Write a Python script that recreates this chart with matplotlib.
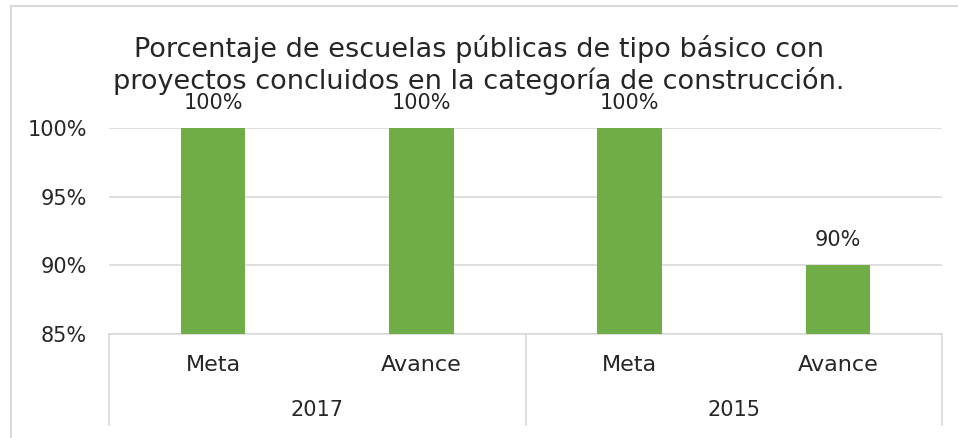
import numpy as np
import matplotlib.pyplot as plt
from matplotlib.lines import Line2D
import matplotlib.transforms as mtransforms

plt.rcParams['font.family'] = ['DejaVu Sans']

# datos
categorias = ['Meta', 'Avance', 'Meta', 'Avance']
anios = ['2017', '2015']
valores = [1.00, 1.00, 1.00, 0.90]
etiquetas = ['100%', '100%', '100%', '90%']
ticks_y = [0.85, 0.90, 0.95, 1.00]

verde = '#70AD47'
gris = '#D9D9D9'
texto = '#262626'

fig = plt.figure(figsize=(9.58, 4.38), dpi=100)
ax = fig.add_axes([109 / 958, 1 - 334 / 438, 833 / 958, 206 / 438])

x = np.arange(len(categorias))
ax.bar(x, np.array(valores) - 0.85, bottom=0.85, width=0.31, color=verde, zorder=3)

for xi, v, t in zip(x, valores, etiquetas):
    ax.text(xi, v + 0.011, t, ha='center', va='bottom', fontsize=15, color=texto)

ax.set_ylim(0.85, 1.0)
ax.set_xlim(-0.5, 3.5)
ax.set_yticks(ticks_y)
ax.set_yticklabels([f'{int(round(t * 100))}%' for t in ticks_y], fontsize=15, color=texto)
ax.tick_params(axis='y', length=0, pad=16)
ax.set_xticks([])
ax.grid(axis='y', color=gris, linewidth=1.2, zorder=0)
for s in ['top', 'right', 'left']:
    ax.spines[s].set_visible(False)
ax.spines['bottom'].set_color(gris)
ax.spines['bottom'].set_linewidth(1.2)

# eje de categorías en dos niveles
trans = mtransforms.blended_transform_factory(ax.transData, ax.transAxes)
for sx in [-0.5, 1.5, 3.5]:
    ax.add_line(Line2D([sx, sx], [0, -0.44], transform=trans, color=gris,
                       linewidth=1.2, clip_on=False))
for xi, c in zip(x, categorias):
    ax.text(xi, -0.15, c, transform=trans, ha='center', va='center', fontsize=16, color=texto)
for i, a in enumerate(anios):
    ax.text(2 * i + 0.5, -0.37, a, transform=trans, ha='center', va='center', fontsize=15, color=texto)

fig.text(0.5, 1 - 65 / 438, 'Porcentaje de escuelas públicas de tipo básico con\n'
         'proyectos concluidos en la categoría de construcción.',
         ha='center', va='center', fontsize=19.5, color=texto, linespacing=1.15)

# borde del gráfico
fig.add_artist(Line2D([11 / 958, 11 / 958], [0, 1 - 6 / 438], transform=fig.transFigure,
                      color=gris, linewidth=1.5))
fig.add_artist(Line2D([11 / 958, 1], [1 - 6 / 438, 1 - 6 / 438], transform=fig.transFigure,
                      color=gris, linewidth=1.5))

fig.savefig('out.png', dpi=100)
